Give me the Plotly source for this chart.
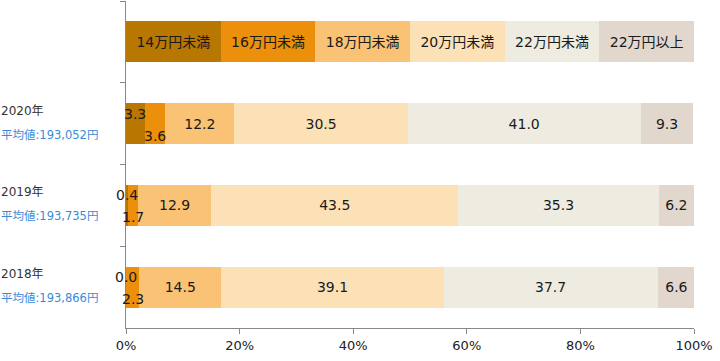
import plotly.graph_objects as go

series_names = ["14万円未満", "16万円未満", "18万円未満", "20万円未満", "22万円未満", "22万円以上"]
series_colors = ["#B87700", "#EC8F0A", "#F9C274", "#FCE1B6", "#EEECE1", "#E1D7CD"]
years = ["2020年", "2019年", "2018年"]
averages = ["平均値:193,052円", "平均値:193,735円", "平均値:193,866円"]
values = {
    "2020年": [3.3, 3.6, 12.2, 30.5, 41.0, 9.3],
    "2019年": [0.4, 1.7, 12.9, 43.5, 35.3, 6.2],
    "2018年": [0.0, 2.3, 14.5, 39.1, 37.7, 6.6],
}
legend_row = "凡例"
x_ticks = [0, 20, 40, 60, 80, 100]

FONT = "DejaVu Sans, Noto Sans CJK JP, sans-serif"
cats = [legend_row] + years
n = len(series_names)

fig = go.Figure()
for i, name in enumerate(series_names):
    xs = [100 / n] + [values[y][i] for y in years]
    texts = [name] + [("" if i < 2 else f"{values[y][i]:.1f}") for y in years]
    sizes = [14] + [14] * len(years)
    fig.add_trace(go.Bar(
        orientation="h", y=cats, x=xs, name=name,
        marker=dict(color=series_colors[i], line=dict(width=0)),
        width=0.5,
        text=texts, textposition="inside", insidetextanchor="middle",
        textangle=0, constraintext="none",
        textfont=dict(family=FONT, size=sizes, color="#1a1a1a"),
        hoverinfo="skip", showlegend=False,
    ))

annotations = []
# small value labels placed above/below the bar
for y in years:
    cum = 0.0
    for i in range(2):
        v = values[y][i]
        annotations.append(dict(
            x=cum + v / 2, y=y, xref="x", yref="y", text=f"{v:.1f}",
            showarrow=False, yshift=(10 if i == 0 else -12),
            font=dict(family=FONT, size=14, color="#1a1a1a"),
        ))
        cum += v
# left labels
for y, avg in zip(years, averages):
    annotations.append(dict(
        x=0, y=y, xref="paper", yref="y", text=y, showarrow=False,
        xanchor="left", xshift=-127, yshift=13,
        font=dict(family=FONT, size=12, color="#333333"),
    ))
    annotations.append(dict(
        x=0, y=y, xref="paper", yref="y", text=avg, showarrow=False,
        xanchor="left", xshift=-127, yshift=-11,
        font=dict(family=FONT, size=11.5, color="#3A8AD8"),
    ))

fig.update_layout(
    barmode="stack",
    width=720, height=361,
    margin=dict(l=126, r=26, t=1, b=33),
    plot_bgcolor="white", paper_bgcolor="white",
    annotations=annotations,
    xaxis=dict(
        range=[0, 100], tickvals=x_ticks, ticktext=[f"{t}%" for t in x_ticks],
        showgrid=False, zeroline=False, showline=True, linecolor="#888888",
        ticks="outside", ticklen=5, tickcolor="#888888",
        tickfont=dict(family=FONT, size=13, color="#222222"),
    ),
    yaxis=dict(
        categoryorder="array", categoryarray=cats, autorange="reversed",
        showticklabels=False, showgrid=False, zeroline=False,
        showline=True, linecolor="#888888",
        ticks="outside", ticklen=5, tickcolor="#888888", tickson="boundaries",
    ),
)

fig.write_html(
    "out.html",
    config={"displayModeBar": False, "staticPlot": True},
    post_script="document.body.style.margin='0';document.body.style.overflow='hidden';",
)
